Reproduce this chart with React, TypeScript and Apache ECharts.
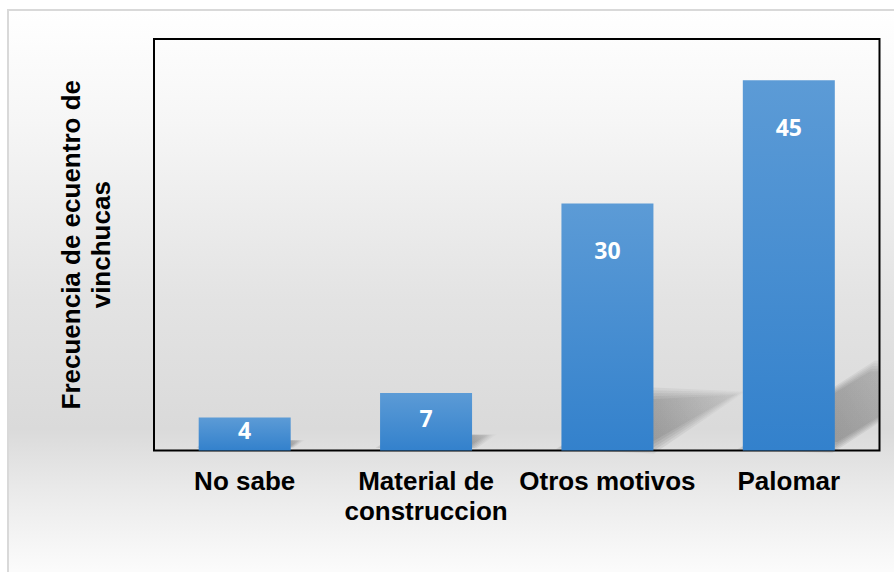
import React, { useEffect, useRef } from "react";
import * as echarts from "echarts";

const categories = ["No sabe", "Material de\nconstruccion", "Otros motivos", "Palomar"];
const frequencies = [4, 7, 30, 45];
const yMin = 0;
const yMax = 50;
const yTitle = "Frecuencia de ecuentro de\nvinchucas";

const BAR_W = 92;

function clipRight(pts: number[][], xmax: number): number[][] {
  const out: number[][] = [];
  for (let i = 0; i < pts.length; i++) {
    const a = pts[i];
    const b = pts[(i + 1) % pts.length];
    const ain = a[0] <= xmax;
    const bin = b[0] <= xmax;
    if (ain) out.push(a);
    if (ain !== bin) {
      const t = (xmax - a[0]) / (b[0] - a[0]);
      out.push([xmax, a[1] + t * (b[1] - a[1])]);
    }
  }
  return out;
}

export default function App() {
  const ref = useRef<HTMLDivElement>(null);
  useEffect(() => {
    if (!ref.current) return;
    const chart = echarts.init(ref.current, null, { renderer: "svg" });
    const barData = frequencies.map((v) =>
      v >= 20
        ? { value: v, label: { position: "insideTop", distance: 35 } }
        : { value: v, label: { position: "inside", offset: [0, -4] } }
    );
    const shadowData = frequencies.map((v, i) => [i, v]);
    chart.setOption({
      animation: false,
      grid: {
        left: 154,
        top: 39,
        right: 14.5,
        bottom: 121.5,
        show: true,
        borderColor: "#000",
        borderWidth: 2,
        backgroundColor: "transparent",
      },
      xAxis: {
        type: "category",
        data: categories,
        axisLine: { show: false },
        axisTick: { show: false },
        splitLine: { show: false },
        axisLabel: {
          interval: 0,
          color: "#000",
          fontFamily: "'Liberation Sans', Arial, sans-serif",
          fontWeight: "bold",
          fontSize: 26,
          lineHeight: 30,
          margin: 15,
        },
      },
      yAxis: {
        type: "value",
        min: yMin,
        max: yMax,
        axisLine: { show: false },
        axisTick: { show: false },
        axisLabel: { show: false },
        splitLine: { show: false },
        name: yTitle,
        nameLocation: "middle",
        nameRotate: 90,
        nameGap: 38,
        nameTextStyle: {
          color: "#000",
          fontFamily: "'Liberation Sans', Arial, sans-serif",
          fontWeight: "bold",
          fontSize: 26,
          lineHeight: 30,
        },
      },
      series: [
        {
          type: "custom",
          z: 1,
          silent: true,
          data: shadowData,
          encode: { x: 0, y: 1 },
          renderItem: (params: any, api: any) => {
            const idx = api.value(0);
            const v = api.value(1);
            const base = api.coord([idx, 0]);
            const top = api.coord([idx, v]);
            const h = base[1] - top[1];
            const x0 = base[0] - BAR_W / 2;
            const x1 = base[0] + BAR_W / 2;
            const by = base[1] - 3;
            const dx = h * 0.35;
            const dy = h * 0.22;
            const cs = params.coordSys;
            const xmax = cs.x + cs.width - 1;
            const cx = (x0 + x1) / 2 + dx / 2;
            const cy = by - dy / 2;
            const raw = [
              [x0, by],
              [x1, by],
              [x1 + dx, by - dy],
              [x0 + dx, by - dy],
            ];
            const pad = Math.min(6, h * 0.08);
            const layers = [-1, -0.5, 0, 0.5, 1];
            const children = layers.map((k) => {
              // expand/shrink by moving vertices away from / toward centre
              const pts = raw.map((p) => {
                const ex = p[0] - cx;
                const ey = p[1] - cy;
                const len = Math.sqrt(ex * ex + ey * ey) || 1;
                return [p[0] + (ex / len) * pad * k, p[1] + (ey / len) * pad * k];
              });
              return {
                type: "polygon",
                shape: { points: clipRight(pts, xmax) },
                style: {
                  fill: new echarts.graphic.LinearGradient(
                    x1,
                    by,
                    x1 + dx,
                    by - dy,
                    [
                      { offset: 0, color: "rgba(0,0,0,0.07)" },
                      { offset: 1, color: "rgba(0,0,0,0.02)" },
                    ],
                    true
                  ),
                },
              };
            });
            return { type: "group", children };
          },
        },
        {
          type: "bar",
          z: 3,
          barWidth: BAR_W,
          data: barData,
          itemStyle: {
            color: new echarts.graphic.LinearGradient(0, 0, 0, 1, [
              { offset: 0, color: "#5c9bd6" },
              { offset: 1, color: "#3381cc" },
            ]),
          },
          label: {
            show: true,
            color: "#fff",
            fontFamily: "'Open Sans', 'Noto Sans', sans-serif",
            fontWeight: "bold",
            fontSize: 23,
          },
        },
      ],
    });
    return () => chart.dispose();
  }, []);

  return (
    <div
      style={{
        position: "fixed",
        left: 0,
        top: 0,
        width: 894,
        height: 572,
        background: "#fff",
        overflow: "hidden",
      }}
    >
      <div
        style={{
          position: "absolute",
          left: 7,
          top: 9,
          width: 900,
          height: 580,
          border: "2px solid #d9d9d9",
          background:
            "linear-gradient(to bottom, #ffffff 0%, #f6f6f6 19%, #e3e3e3 50%, #dadada 72%, #e9e9e9 82%, #f7f7f7 93%, #ffffff 100%)",
        }}
      />
      <div ref={ref} style={{ position: "absolute", left: 0, top: 0, width: 894, height: 572 }} />
    </div>
  );
}
